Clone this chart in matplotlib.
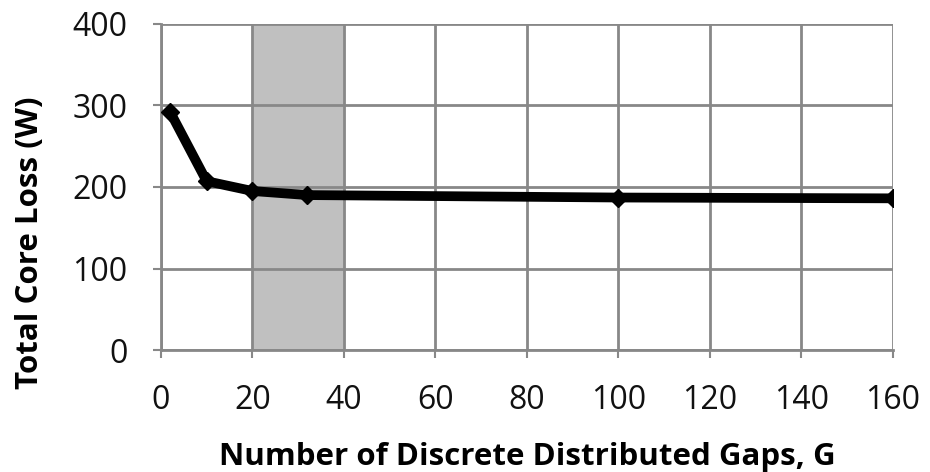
import matplotlib.pyplot as plt

# total core loss vs number of distributed gaps
gaps = [2, 10, 20, 32, 100, 160]
core_loss = [292, 207, 195, 190, 187, 186]

x_ticks = [0, 20, 40, 60, 80, 100, 120, 140, 160]
y_ticks = [0, 100, 200, 300, 400]
band = (20, 40)

plt.rcParams['font.family'] = ['Open Sans', 'DejaVu Sans']
grid_col = '#888888'

fig = plt.figure(figsize=(9.3, 4.72), dpi=100)
ax = fig.add_axes([0.173, 0.258, 0.787, 0.692])

ax.axvspan(*band, color='#c0c0c0', zorder=0)
ax.plot(gaps, core_loss, color='black', lw=7, marker='D', ms=9,
        solid_capstyle='butt', zorder=3)

ax.set_xlim(0, 160)
ax.set_ylim(0, 400)
ax.set_xticks(x_ticks)
ax.set_yticks(y_ticks)
ax.grid(True, color=grid_col, lw=2)
ax.set_axisbelow(True)
for side in ['top', 'right']:
    ax.spines[side].set_visible(False)
for side in ['left', 'bottom']:
    ax.spines[side].set_color(grid_col)
    ax.spines[side].set_linewidth(2)
ax.tick_params(length=6, width=1.5, color=grid_col, labelsize=23,
               labelcolor='#111111')
ax.tick_params(axis='x', pad=18)
ax.tick_params(axis='y', pad=18)

ax.set_xlabel('Number of Discrete Distributed Gaps, G', fontsize=22.5,
              fontweight='bold', va='baseline')
ax.xaxis.set_label_coords(0.5, -0.352)
ax.set_ylabel('Total Core Loss (W)', fontsize=22.5, fontweight='bold')
ax.yaxis.set_label_coords(-0.158, 0.33)

fig.savefig('out.png', dpi=100)
